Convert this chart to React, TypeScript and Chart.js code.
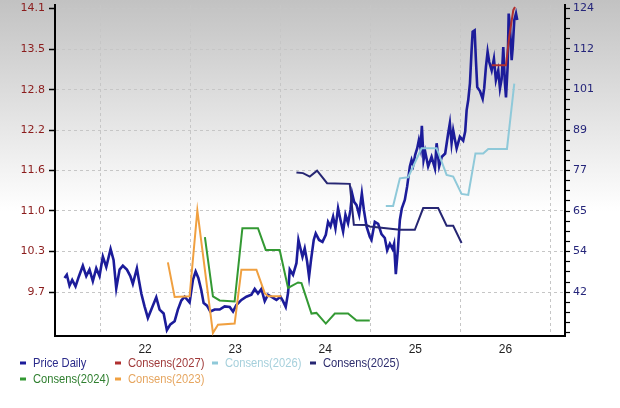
import React, { useEffect, useRef } from 'react';
import { Chart, registerables } from 'chart.js';

Chart.register(...registerables);

// ---- axes / ticks ----
const yearLabels = [2022, 2023, 2024, 2025, 2026];
const yearGridLines = [2021.5, 2022.5, 2023.5, 2024.5, 2025.5, 2026.5];
const leftTicks = [9.7, 10.33, 10.96, 11.59, 12.21, 12.84, 13.47, 14.1];
const rightTicks = [42, 53.71, 65.43, 77.14, 88.86, 100.57, 112.29, 124];

// ---- Price Daily (left axis) ----
const priceDates = [
  2021.106, 2021.131, 2021.161, 2021.191, 2021.228, 2021.264, 2021.309, 2021.347, 2021.383, 2021.420,
  2021.458, 2021.494, 2021.531, 2021.569, 2021.617, 2021.650, 2021.680, 2021.717, 2021.753, 2021.798,
  2021.836, 2021.864, 2021.909, 2021.931, 2021.958, 2021.994, 2022.031, 2022.069, 2022.124, 2022.161,
  2022.206, 2022.242, 2022.280, 2022.328, 2022.364, 2022.402, 2022.439, 2022.494, 2022.531, 2022.561,
  2022.591, 2022.624, 2022.650, 2022.687, 2022.724, 2022.772, 2022.828, 2022.883, 2022.939, 2022.976,
  2023.013, 2023.069, 2023.124, 2023.180, 2023.217, 2023.253, 2023.291, 2023.328, 2023.364, 2023.413,
  2023.458, 2023.502, 2023.531, 2023.561, 2023.587, 2023.606, 2023.642, 2023.680, 2023.702, 2023.724,
  2023.747, 2023.772, 2023.798, 2023.820, 2023.842, 2023.872, 2023.894, 2023.931, 2023.969, 2024.006,
  2024.031, 2024.058, 2024.087, 2024.113, 2024.142, 2024.169, 2024.198, 2024.224, 2024.253, 2024.280,
  2024.298, 2024.320, 2024.347, 2024.376, 2024.406, 2024.428, 2024.458, 2024.494, 2024.513, 2024.550,
  2024.587, 2024.624, 2024.661, 2024.687, 2024.717, 2024.747, 2024.764, 2024.783, 2024.806, 2024.828,
  2024.850, 2024.883, 2024.909, 2024.939, 2024.958, 2024.976, 2024.998, 2025.020, 2025.039, 2025.058,
  2025.072, 2025.091, 2025.109, 2025.142, 2025.180, 2025.217, 2025.236, 2025.264, 2025.294, 2025.331,
  2025.364, 2025.383, 2025.402, 2025.420, 2025.458, 2025.494, 2025.531, 2025.553, 2025.569, 2025.587,
  2025.606, 2025.624, 2025.636, 2025.658, 2025.672, 2025.687, 2025.717, 2025.747, 2025.764, 2025.783,
  2025.802, 2025.820, 2025.847, 2025.872, 2025.894, 2025.920, 2025.939, 2025.958, 2025.976, 2025.994,
  2026.006, 2026.024, 2026.036, 2026.050, 2026.069, 2026.080, 2026.098, 2026.117, 2026.131,
];
const priceValues = [
  9.92, 9.97, 9.80, 9.89, 9.79, 9.94, 10.11, 9.95, 10.05, 9.87,
  10.07, 9.95, 10.25, 10.09, 10.37, 10.20, 9.76, 10.05, 10.11, 10.05,
  9.95, 9.83, 10.07, 9.89, 9.68, 9.48, 9.30, 9.43, 9.62, 9.43,
  9.37, 9.11, 9.20, 9.25, 9.43, 9.57, 9.63, 9.54, 9.89, 10.02,
  9.92, 9.73, 9.53, 9.49, 9.40, 9.43, 9.43, 9.48, 9.47, 9.40,
  9.50, 9.58, 9.63, 9.66, 9.75, 9.68, 9.75, 9.56, 9.66, 9.62,
  9.58, 9.63, 9.56, 9.47, 9.69, 10.05, 9.97, 10.15, 10.51, 10.38,
  10.25, 10.38, 10.18, 9.94, 10.20, 10.51, 10.61, 10.51, 10.48, 10.59,
  10.79, 10.72, 10.87, 10.69, 11.00, 10.82, 10.64, 10.90, 10.77, 10.98,
  11.23, 11.10, 11.05, 10.90, 11.23, 10.98, 10.72, 10.56, 10.51, 10.79,
  10.76, 10.60, 10.54, 10.35, 10.45, 10.37, 10.45, 9.98, 10.36, 10.82,
  11.00, 11.13, 11.34, 11.65, 11.75, 11.67, 11.83, 11.93, 12.06, 11.93,
  12.28, 11.75, 11.88, 11.65, 11.80, 11.62, 12.01, 11.65, 11.80, 11.85,
  12.16, 12.32, 12.01, 12.21, 11.93, 12.11, 12.05, 12.19, 12.52, 12.68,
  12.94, 13.45, 13.74, 13.76, 13.30, 12.88, 12.82, 12.70, 12.86, 13.19,
  13.43, 13.27, 13.14, 13.32, 12.99, 13.14, 12.86, 13.01, 13.50, 12.94,
  12.72, 13.19, 14.02, 13.81, 13.30, 13.48, 13.92, 14.02, 13.92,
];

// ---- Consensus series (right axis) ----
const cons2027Dates = [2025.847, 2026.006, 2026.042, 2026.087, 2026.106];
const cons2027Values = [107.6, 107.6, 115.8, 123.5, 124.4];

const cons2026Dates = [2024.672, 2024.753, 2024.828, 2024.920, 2025.069, 2025.236, 2025.347, 2025.420, 2025.513, 2025.587, 2025.667, 2025.753, 2025.809, 2026.017, 2026.098];
const cons2026Values = [66.9, 66.9, 74.9, 75.2, 83.6, 83.6, 75.9, 75.4, 70.4, 70.1, 82.1, 82.1, 83.4, 83.4, 102.3];

const cons2025Dates = [2023.680, 2023.753, 2023.828, 2023.909, 2024.020, 2024.272, 2024.317, 2024.458, 2024.494, 2024.828, 2024.994, 2025.087, 2025.253, 2025.347, 2025.420, 2025.513];
const cons2025Values = [76.6, 76.4, 75.4, 77.1, 73.5, 73.3, 61.5, 61.4, 61.0, 60.0, 60.0, 66.3, 66.3, 61.2, 61.2, 56.2];

const cons2024Dates = [2022.664, 2022.753, 2022.828, 2022.994, 2023.080, 2023.253, 2023.339, 2023.494, 2023.587, 2023.698, 2023.736, 2023.847, 2023.902, 2024.006, 2024.106, 2024.253, 2024.347, 2024.494];
const cons2024Values = [57.9, 40.8, 39.6, 39.3, 60.5, 60.5, 54.2, 54.2, 43.2, 44.8, 44.6, 35.8, 36.0, 32.9, 35.8, 35.8, 33.8, 33.8];

const cons2023Dates = [2022.253, 2022.328, 2022.494, 2022.580, 2022.753, 2022.809, 2022.994, 2023.069, 2023.236, 2023.328, 2023.364, 2023.513];
const cons2023Values = [50.6, 40.6, 40.8, 65.6, 30.2, 32.6, 32.9, 48.5, 48.5, 41.7, 40.8, 40.8];

const seriesNames = ['Price Daily', 'Consens(2027)', 'Consens(2026)', 'Consens(2025)', 'Consens(2024)', 'Consens(2023)'];
const lineColors = ['#1c1c9a', '#b03030', '#8fc9d9', '#262673', '#339933', '#f0a040'];
const legendTextColors = ['#2a2a8a', '#a03a3a', '#a6d0dc', '#2d2d6d', '#2f7f2f', '#e6a660'];

const toPoints = (xs: number[], ys: number[]) => xs.map((x, i) => ({ x, y: ys[i] }));

const near = (arr: number[], v: number) => arr.some((a) => Math.abs(a - v) < 0.005);

// minor ticks for right axis (quarter steps between major ticks)
const rightAllTicks: number[] = (() => {
  const out: number[] = [];
  const step = rightTicks[1] - rightTicks[0];
  for (let j = 4; j >= 1; j--) out.push(rightTicks[0] - (j * step) / 4);
  for (let k = 0; k < rightTicks.length; k++) {
    out.push(rightTicks[k]);
    if (k < rightTicks.length - 1) {
      const s = rightTicks[k + 1] - rightTicks[k];
      for (let j = 1; j < 4; j++) out.push(rightTicks[k] + (j * s) / 4);
    }
  }
  return out;
})();

const bgPlugin = {
  id: 'bgGradient',
  beforeDraw(chart: any) {
    const { ctx, width, height } = chart;
    const g = ctx.createLinearGradient(0, 0, 0, height);
    g.addColorStop(0, '#c2c2c2');
    g.addColorStop(0.52, '#ffffff');
    g.addColorStop(1, '#ffffff');
    ctx.save();
    ctx.fillStyle = g;
    ctx.fillRect(0, 0, width, height);
    ctx.restore();
  },
};

const legendPlugin = {
  id: 'customLegend',
  afterDraw(chart: any) {
    const { ctx } = chart;
    const cols = [20, 115, 212, 310];
    const rows = [363, 379];
    ctx.save();
    seriesNames.forEach((name, i) => {
      const row = i < 4 ? 0 : 1;
      const col = i < 4 ? i : i - 4;
      const x = cols[col];
      const y = rows[row];
      ctx.fillStyle = lineColors[i];
      ctx.fillRect(x, y - 1.5, 6, 3);
      ctx.save();
      ctx.translate(x + 13, y);
      ctx.scale(0.86, 1);
      ctx.font = '13px "Liberation Sans", Arial, sans-serif';
      ctx.textBaseline = 'middle';
      ctx.textAlign = 'left';
      ctx.fillStyle = legendTextColors[i];
      ctx.fillText(name, 0, 0.5);
      ctx.restore();
    });
    ctx.restore();
  },
};

export default function App() {
  const canvasRef = useRef<HTMLCanvasElement | null>(null);

  useEffect(() => {
    if (!canvasRef.current) return;
    const ds = (label: string, pts: any[], color: string, axis: string, width: number, order: number) => ({
      label,
      data: pts,
      borderColor: color,
      backgroundColor: color,
      borderWidth: width,
      pointRadius: 0,
      tension: 0,
      fill: false,
      yAxisID: axis,
      order,
    });
    const chart = new Chart(canvasRef.current, {
      type: 'line',
      data: {
        datasets: [
          ds(seriesNames[1], toPoints(cons2027Dates, cons2027Values), lineColors[1], 'y1', 2, 0),
          ds(seriesNames[2], toPoints(cons2026Dates, cons2026Values), lineColors[2], 'y1', 2, 1),
          ds(seriesNames[3], toPoints(cons2025Dates, cons2025Values), lineColors[3], 'y1', 2, 1),
          ds(seriesNames[4], toPoints(cons2024Dates, cons2024Values), lineColors[4], 'y1', 2, 1),
          ds(seriesNames[5], toPoints(cons2023Dates, cons2023Values), lineColors[5], 'y1', 2, 1),
          ds(seriesNames[0], toPoints(priceDates, priceValues), lineColors[0], 'y', 2.6, 5),
        ],
      },
      options: {
        animation: false,
        responsive: false,
        events: [],
        layout: { padding: { top: 5, left: 0, right: 0, bottom: 0 } },
        plugins: { legend: { display: false }, tooltip: { enabled: false } },
        scales: {
          x: {
            type: 'linear',
            min: 2021.0,
            max: 2026.661,
            afterBuildTicks: (s: any) => {
              s.ticks = [...yearGridLines, ...yearLabels].sort((a, b) => a - b).map((v) => ({ value: v }));
            },
            afterFit: (s: any) => {
              s.height = 72;
              s.paddingLeft = 0;
              s.paddingRight = 0;
            },
            ticks: {
              autoSkip: false,
              maxRotation: 0,
              padding: 6,
              color: '#222222',
              font: { family: '"Liberation Sans", Arial, sans-serif', size: 12 },
              callback: (v: any) => (near(yearLabels, Number(v)) ? String(Math.round(Number(v)) % 100) : ''),
            },
            grid: {
              drawTicks: false,
              lineWidth: 1,
              color: (c: any) => (c.tick && near(yearGridLines, c.tick.value) ? '#c6c6c6' : 'rgba(0,0,0,0)'),
            },
            border: { display: true, color: '#000000', width: 2, dash: [3, 3] },
          },
          y: {
            position: 'left',
            min: 9.02,
            max: 14.154,
            afterBuildTicks: (s: any) => {
              s.ticks = leftTicks.map((v) => ({ value: v }));
            },
            afterFit: (s: any) => {
              s.width = 55;
              s.paddingTop = 0;
              s.paddingBottom = 0;
            },
            ticks: {
              autoSkip: false,
              padding: 4,
              color: '#8b1c1c',
              font: { family: '"DejaVu Sans", Verdana, sans-serif', size: 11 },
              callback: (v: any) => Number(v).toFixed(1),
            },
            grid: {
              color: '#c6c6c6',
              lineWidth: 1,
              drawTicks: true,
              tickLength: 6,
              tickColor: '#000000',
              tickWidth: 1.5,
            },
            border: { display: true, color: '#000000', width: 2, dash: [3, 3] },
          },
          y1: {
            position: 'right',
            min: 29.32,
            max: 125.0,
            afterBuildTicks: (s: any) => {
              s.ticks = rightAllTicks.map((v) => ({ value: v }));
            },
            afterFit: (s: any) => {
              s.width = 55;
              s.paddingTop = 0;
              s.paddingBottom = 0;
            },
            ticks: {
              autoSkip: false,
              padding: 3,
              color: '#25257a',
              font: { family: '"DejaVu Sans", Verdana, sans-serif', size: 11 },
              callback: (v: any) => (near(rightTicks, Number(v)) ? String(Math.round(Number(v))) : ''),
            },
            grid: {
              drawOnChartArea: false,
              drawTicks: true,
              tickLength: 5,
              tickColor: '#000000',
              tickWidth: 1.2,
            },
            border: { display: true, color: '#000000', width: 2 },
          },
        },
      } as any,
      plugins: [bgPlugin, legendPlugin],
    });
    return () => chart.destroy();
  }, []);

  return (
    <div style={{ position: 'absolute', left: 0, top: 0, width: 620, height: 408 }}>
      <canvas ref={canvasRef} width={620} height={408} style={{ display: 'block', width: 620, height: 408 }} />
    </div>
  );
}
